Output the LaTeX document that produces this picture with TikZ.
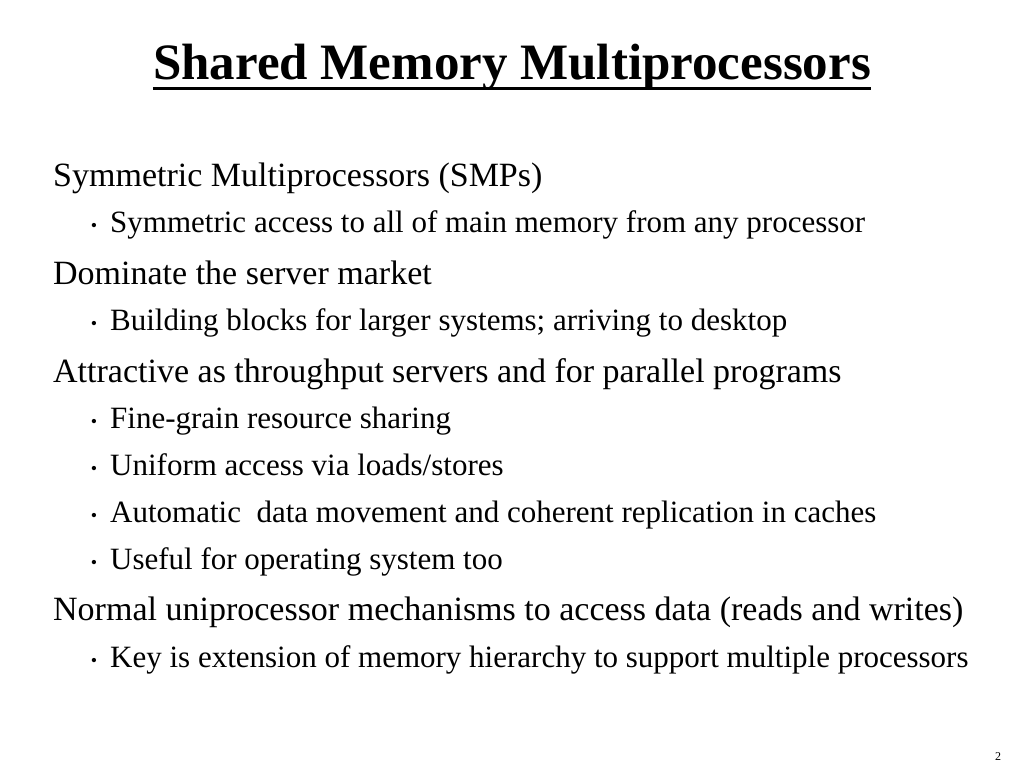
\documentclass[tikz,border=0pt]{standalone}
\usepackage{fontspec}
\setmainfont{Liberation Serif}
\begin{document}
\begin{tikzpicture}[x=1pt,y=-1pt,
  lone/.style={anchor=base west,inner sep=0pt,font=\fontsize{34}{38}\selectfont},
  ltwo/.style={anchor=base west,inner sep=0pt,font=\fontsize{31}{34}\selectfont},
  bul/.style={anchor=base,inner sep=0pt,font=\fontsize{18}{20}\selectfont}]
\useasboundingbox (0,0) rectangle (1024,768);
\node[anchor=base,inner sep=0pt,font=\fontsize{51}{56}\bfseries\selectfont] (t) at (512,79) {Shared Memory Multiprocessors};
\draw[line width=3pt] (t.base west)++(0,9) coordinate (u1) -- (t.base east |- u1);
\node[lone] (a1) at (53,186) {Symmetric Multiprocessors (SMPs)};
\node[ltwo] (b1) at (110,232) {Symmetric access to all of main memory from any processor};
\node[lone] (a2) at (53,284) {Dominate the server market};
\node[ltwo] (b2) at (110,330) {Building blocks for larger systems; arriving to desktop};
\node[lone] (a3) at (53,382) {Attractive as throughput servers and for parallel programs};
\node[ltwo] (b3) at (110,428) {Fine-grain resource sharing};
\node[ltwo] (b4) at (110,475) {Uniform access via loads/stores};
\node[ltwo] (b5) at (110,522) {Automatic\ \ data movement and coherent replication in caches};
\node[ltwo] (b6) at (110,569) {Useful for operating system too};
\node[lone] (a4) at (53,620) {Normal uniprocessor mechanisms to access data (reads and writes)};
\node[ltwo] (b7) at (110,667) {Key is extension of memory hierarchy to support multiple processors};
\foreach \y in {232,330,428,475,522,569,667} \node[bul] at (94,\y-1) {•};
\node[anchor=base,inner sep=0pt,font=\fontsize{12}{14}\selectfont] (pg) at (998,760) {2};
\end{tikzpicture}
\end{document}
